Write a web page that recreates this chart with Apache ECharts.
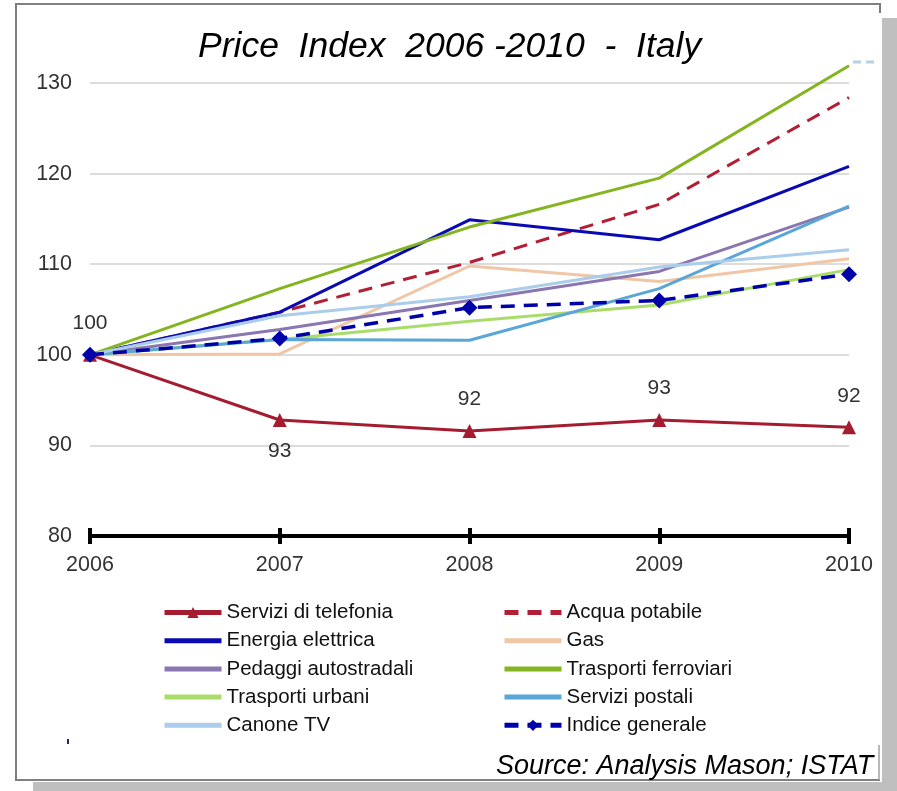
<!DOCTYPE html>
<html>
<head>
<meta charset="utf-8">
<script src="https://cdn.jsdelivr.net/npm/echarts@6/dist/echarts.min.js"></script>
<style>html,body{margin:0;padding:0;background:#fff;}#c{width:897px;height:791px;}</style>
</head>
<body>
<div id="c"></div>
<script>
var years = ['2006', '2007', '2008', '2009', '2010'];
var yTicks = [80, 90, 100, 110, 120, 130];
var telefonia = [100, 92.8, 91.6, 92.8, 92.0];
var telefoniaLabels = ['100', '93', '92', '93', '92'];
var acqua = [100, 104.7, 110.2, 116.6, 128.4];
var energia = [100, 104.7, 114.9, 112.7, 120.8];
var gas = [100, 100.1, 109.8, 108.1, 110.6];
var pedaggi = [100, 102.8, 106.0, 109.2, 116.3];
var ferroviari = [100, 107.3, 114.1, 119.5, 131.9];
var urbani = [100, 101.7, 103.7, 105.5, 109.4];
var postali = [100, 101.7, 101.6, 107.3, 116.4];
var canone = [100, 104.3, 106.4, 109.7, 111.6];
var indice = [100, 101.8, 105.2, 106.0, 108.9];

var SANS = "'Liberation Sans', Arial, sans-serif";
var chart = echarts.init(document.getElementById('c'), null, {renderer: 'canvas'});

function line(name, data, color, opts) {
  var s = {
    name: name, type: 'line', data: data, clip: false,
    symbol: 'none', showSymbol: false,
    lineStyle: {color: color, width: 3, type: 'solid'},
    itemStyle: {color: color},
    emphasis: {disabled: true},
    animation: false
  };
  if (opts) for (var k in opts) s[k] = opts[k];
  return s;
}

var series = [
  line('Servizi di telefonia', telefonia.map(function (v, i) {
    return {value: v, label: {position: i === 1 ? 'bottom' : 'top'}};
  }), '#A51C30', {
    symbol: 'triangle', showSymbol: true, symbolSize: 14,
    label: {show: true, distance: 14, fontFamily: SANS, fontSize: 21, color: '#333',
      formatter: function (p) { return telefoniaLabels[p.dataIndex]; }}
  }),
  line('Acqua potabile', acqua, '#B21F35', {lineStyle: {color: '#B21F35', width: 3, type: [14, 9]}}),
  line('Energia elettrica', energia, '#0A0AB2'),
  line('Gas', gas, '#EFC7A6'),
  line('Pedaggi autostradali', pedaggi, '#8A76B0'),
  line('Trasporti ferroviari', ferroviari, '#84B41F'),
  line('Trasporti urbani', urbani, '#A9DD6B'),
  line('Servizi postali', postali, '#5AA6D6'),
  line('Canone TV', canone, '#AACDEB'),
  line('Indice generale', indice, '#0000AA', {
    symbol: 'diamond', showSymbol: true, symbolSize: 16,
    lineStyle: {color: '#0000AA', width: 3.5, type: [14, 9]}
  })
];

var withSymbol = ['Servizi di telefonia', 'Indice generale'];
function legendItems(names) {
  return names.map(function (n) {
    return withSymbol.indexOf(n) >= 0 ? {name: n} : {name: n, itemStyle: {opacity: 0}};
  });
}

var legendCommon = {
  orient: 'vertical', itemWidth: 57, itemHeight: 14, itemGap: 7.2,
  textStyle: {fontFamily: SANS, fontSize: 20.5, color: '#111'},
  lineStyle: {width: 5},
  selectedMode: false, top: 597
};

chart.setOption({
  animation: false,
  backgroundColor: '#fff',
  grid: {left: 90, right: 48, top: 83, bottom: 255, containLabel: false},
  xAxis: [{
    type: 'category', data: years, boundaryGap: false,
    axisLine: {show: true, lineStyle: {color: '#000', width: 4}},
    axisTick: {show: true, length: 8, lineStyle: {color: '#000', width: 4}},
    axisLabel: {margin: 18, fontFamily: SANS, fontSize: 21.5, color: '#333'},
    splitLine: {show: false}
  }, {
    type: 'category', data: years, boundaryGap: false, position: 'bottom',
    axisLine: {show: false},
    axisTick: {show: true, inside: true, length: 8, lineStyle: {color: '#000', width: 4}},
    axisLabel: {show: false}, splitLine: {show: false}
  }],
  yAxis: {
    type: 'value', min: 80, max: 130, interval: 10,
    axisLine: {show: false}, axisTick: {show: false},
    axisLabel: {margin: 18, fontFamily: SANS, fontSize: 21.5, color: '#333',
      formatter: function (v) { return yTicks.indexOf(v) >= 0 ? String(v) : ''; }},
    splitLine: {show: true, lineStyle: {color: '#D0D0D0', width: 1.5}}
  },
  legend: [
    Object.assign({left: 157, data: legendItems(['Servizi di telefonia', 'Energia elettrica', 'Pedaggi autostradali', 'Trasporti urbani', 'Canone TV'])}, legendCommon),
    Object.assign({left: 497, data: legendItems(['Acqua potabile', 'Gas', 'Trasporti ferroviari', 'Servizi postali', 'Indice generale'])}, legendCommon)
  ],
  graphic: [
    {type: 'text', left: 198, top: 29, style: {text: 'Price  Index  2006 -2010  -  Italy', fontFamily: SANS, fontStyle: 'italic', fontSize: 35.5, fill: '#000'}, z: 102},
    {type: 'polyline', shape: {points: [[880, 13], [880, 4], [16, 4], [16, 780], [880, 780]]}, style: {fill: 'none', stroke: '#808080', lineWidth: 2}, z: 100},
    {type: 'line', shape: {x1: 879, y1: 745, x2: 879, y2: 780}, style: {stroke: '#A0A0A0', lineWidth: 1.5}, z: 100},
    {type: 'rect', shape: {x: 882, y: 18, width: 15, height: 773}, style: {fill: '#BFBFBF'}, z: 101},
    {type: 'rect', shape: {x: 33, y: 782, width: 864, height: 9}, style: {fill: '#BFBFBF'}, z: 101},
    {type: 'line', shape: {x1: 853, y1: 62, x2: 879, y2: 62}, style: {stroke: '#B8D0E4', lineWidth: 3, lineDash: [8, 5]}, z: 100},
    {type: 'rect', shape: {x: 67, y: 739, width: 2, height: 5}, style: {fill: '#1A2A6A'}, z: 100},
    {type: 'text', left: 496, top: 753, style: {text: 'Source: Analysis Mason; ISTAT', fontFamily: SANS, fontStyle: 'italic', fontSize: 27, fill: '#000'}, z: 102}
  ],
  series: series
});
</script>
</body>
</html>
